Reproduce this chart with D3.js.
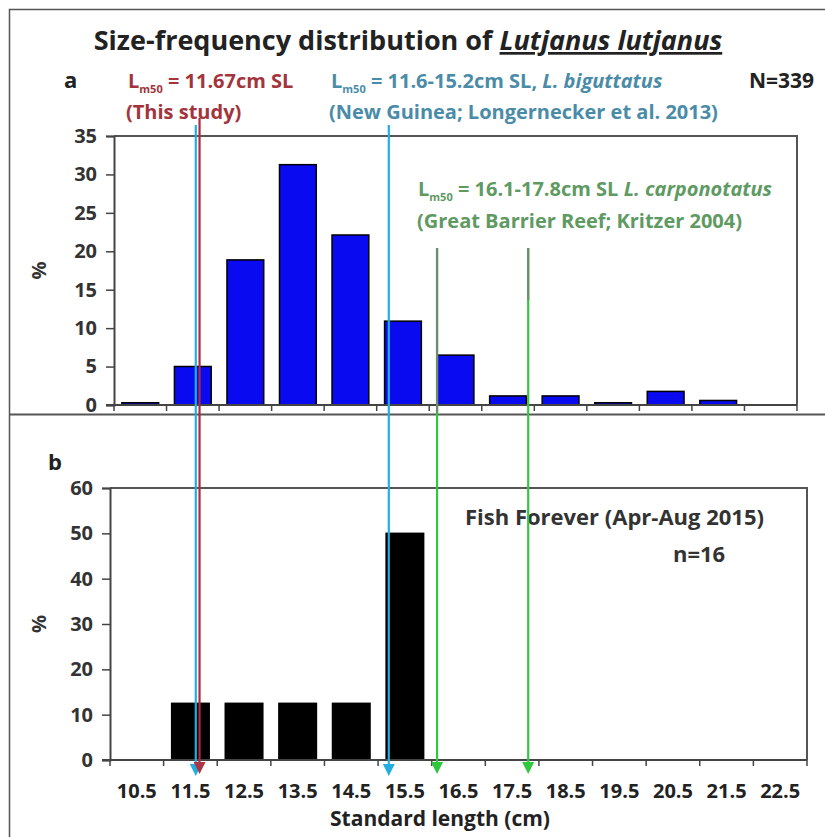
<!DOCTYPE html>
<html>
<head>
<meta charset="utf-8">
<script src="https://cdn.jsdelivr.net/npm/d3@7"></script>
<style>
  html, body { margin: 0; padding: 0; background: #fff; }
  svg { display: block; }
  text { font-family: "Open Sans", Lato, sans-serif; font-weight: bold; }
</style>
</head>
<body>
<svg id="chart" width="825" height="837"></svg>
<script>
// Size classes (cm SL, class mid-points)
const sizeClasses = ["10.5","11.5","12.5","13.5","14.5","15.5","16.5","17.5","18.5","19.5","20.5","21.5","22.5"];
// Panel a: this study, N = 339 (% of fish per class)
const pctThisStudy = [0.29, 5.01, 18.88, 31.27, 22.12, 10.91, 6.49, 1.18, 1.18, 0.29, 1.77, 0.59, 0];
// Panel b: Fish Forever, Apr-Aug 2015, n = 16
const pctFishForever = [0, 12.5, 12.5, 12.5, 12.5, 50, 0, 0, 0, 0, 0, 0, 0];
const yTicksA = [0, 5, 10, 15, 20, 25, 30, 35];
const yTicksB = [0, 10, 20, 30, 40, 50, 60];
// Published Lm50 estimates (cm SL)
const lm50ThisStudy = [11.67];
const lm50Biguttatus = [11.6, 15.2];
const lm50Carponotatus = [16.1, 17.8];

const svg = d3.select("#chart");

// outer frame and panel divider
svg.append("path").attr("d", "M9.5,837 V9.5 H825").attr("fill", "none").attr("stroke", "#555").attr("stroke-width", 1.5);
svg.append("line").attr("x1", 9).attr("x2", 825).attr("y1", 414.5).attr("y2", 414.5).attr("stroke", "#555").attr("stroke-width", 2);

// Title
const title = svg.append("text").attr("x", 408).attr("y", 50).attr("text-anchor", "middle")
  .attr("font-size", 27).attr("fill", "#222");
title.append("tspan").text("Size-frequency distribution of ");
title.append("tspan").attr("font-style", "italic").attr("text-decoration", "underline").text("Lutjanus lutjanus");

// ---------- panel geometry ----------
const A = { left: 114, right: 797, top: 136, bottom: 405, yMax: 35, ticks: yTicksA, data: pctThisStudy, fill: "#0a0af0" };
const B = { left: 110, right: 807, top: 488, bottom: 760, yMax: 60, ticks: yTicksB, data: pctFishForever, fill: "#000" };

function drawPanel(P) {
  const x = d3.scaleBand().domain(sizeClasses).range([P.left, P.right]).paddingInner(0.3).paddingOuter(0.15);
  const y = d3.scaleLinear().domain([0, P.yMax]).range([P.bottom, P.top]);
  const g = svg.append("g");

  // plot box (top and right edges)
  g.append("path").attr("d", `M${P.left},${P.top} H${P.right} V${P.bottom}`)
    .attr("fill", "none").attr("stroke", "#555").attr("stroke-width", 2);

  // bars
  g.selectAll("rect.bar").data(P.data.map((v, i) => ({ c: sizeClasses[i], v })).filter(d => d.v > 0))
    .join("rect").attr("class", "bar")
    .attr("x", d => x(d.c)).attr("width", x.bandwidth())
    .attr("y", d => y(d.v)).attr("height", d => y(0) - y(d.v))
    .attr("fill", P.fill).attr("stroke", "#000").attr("stroke-width", 1.5);

  // y axis
  const ya = g.append("g").attr("transform", `translate(${P.left},0)`)
    .call(d3.axisLeft(y).tickValues(P.ticks).tickSize(8).tickPadding(9).tickFormat(d3.format("d")));
  ya.select(".domain").attr("stroke", "#444").attr("stroke-width", 2);
  ya.selectAll(".tick line").attr("stroke", "#444").attr("stroke-width", 1.5);
  ya.selectAll("text").attr("font-size", 20).attr("fill", "#333")
    .attr("font-family", "'Open Sans', sans-serif").attr("font-weight", "bold");

  // x axis: tick marks at class boundaries
  const bounds = d3.range(sizeClasses.length + 1).map(i => P.left + i * x.step());
  g.append("line").attr("x1", P.left - 8).attr("x2", P.right).attr("y1", P.bottom).attr("y2", P.bottom)
    .attr("stroke", "#444").attr("stroke-width", 2);
  g.selectAll("line.xt").data(bounds).join("line").attr("class", "xt")
    .attr("x1", d => d).attr("x2", d => d).attr("y1", P.bottom).attr("y2", P.bottom + 6)
    .attr("stroke", "#444").attr("stroke-width", 1.5);

  // "%" axis title
  g.append("text").attr("transform", `translate(39,${(P.top + P.bottom) / 2}) rotate(-90)`)
    .attr("text-anchor", "middle").attr("dy", "0.35em").attr("font-size", 20).attr("fill", "#333").text("%");
  return x;
}

drawPanel(A);
const xb = drawPanel(B);

// x tick labels and axis title (shared, below panel b)
svg.append("g").selectAll("text").data(sizeClasses).join("text")
  .attr("x", d => xb(d) + xb.bandwidth() / 2).attr("y", 798).attr("text-anchor", "middle")
  .attr("font-size", 20).attr("fill", "#222").text(d => d);
svg.append("text").attr("x", 440).attr("y", 826).attr("text-anchor", "middle")
  .attr("font-size", 21).attr("fill", "#222").text("Standard length (cm)");

// panel letters and sample sizes
svg.append("text").attr("x", 64).attr("y", 88).attr("font-size", 22).attr("fill", "#222").text("a");
svg.append("text").attr("x", 814).attr("y", 88).attr("text-anchor", "end").attr("font-size", 21).attr("fill", "#222").text("N=339");
svg.append("text").attr("x", 48).attr("y", 470).attr("font-size", 22).attr("fill", "#222").text("b");
svg.append("text").attr("x", 465).attr("y", 525).attr("font-size", 22).attr("fill", "#333").text("Fish Forever (Apr-Aug 2015)");
svg.append("text").attr("x", 673).attr("y", 562).attr("font-size", 22).attr("fill", "#333").text("n=16");

// ---------- Lm50 reference lines ----------
const xv = d3.scaleLinear().domain([10.5, 22.5])
  .range([xb("10.5") + xb.bandwidth() / 2, xb("22.5") + xb.bandwidth() / 2]);

const refLines = [
  ...lm50Biguttatus.map(v => ({ v, top: 125, bottom: 776, color: "#1fb0dc", head: "#22aee0" })),
  ...lm50ThisStudy.map(v => ({ v, top: 118, bottom: 774, color: "#b02a40", head: "#a83848" })),
  ...lm50Carponotatus.map(v => ({ v, top: 248, bottom: 774, color: "#33c83c", head: "#2ec83c" }))
];
const rl = svg.append("g");
rl.selectAll("line").data(refLines).join("line")
  .attr("x1", d => xv(d.v)).attr("x2", d => xv(d.v))
  .attr("y1", d => d.top).attr("y2", d => d.bottom - 6)
  .attr("stroke", d => d.color).attr("stroke-width", 2.2);
// downward arrow heads
rl.selectAll("path").data(refLines).join("path")
  .attr("d", d => { const x = xv(d.v), b = d.bottom; return `M${x - 6},${b - 12} L${x + 6},${b - 12} L${x},${b} Z`; })
  .attr("fill", d => d.head);
// upper part of the carponotatus lines, drawn in the muted label colour
svg.append("g").selectAll("line").data(lm50Carponotatus).join("line")
  .attr("x1", d => xv(d)).attr("x2", d => xv(d)).attr("y1", 248).attr("y2", (d, i) => i === 0 ? 413 : 300)
  .attr("stroke", "#6f8c70").attr("stroke-width", 2.2);

// ---------- Lm50 labels ----------
function lmLabel(x, y, color, rest, italic) {
  const t = svg.append("text").attr("x", x).attr("y", y).attr("font-size", 20).attr("fill", color);
  t.append("tspan").text("L");
  t.append("tspan").attr("font-size", 11).attr("dy", 5).text("m50");
  t.append("tspan").attr("dy", -5).text(rest);
  if (italic) t.append("tspan").attr("font-style", "italic").text(italic);
  return t;
}
lmLabel(128, 88, "#a3343c", " = 11.67cm SL");
svg.append("text").attr("x", 126).attr("y", 119).attr("font-size", 20).attr("fill", "#a3343c").text("(This study)");

lmLabel(331, 88, "#4a8ca8", " = 11.6-15.2cm SL, ", "L. biguttatus");
svg.append("text").attr("x", 329).attr("y", 119).attr("font-size", 20).attr("fill", "#4a8ca8").text("(New Guinea; Longernecker et al. 2013)");

lmLabel(418, 196, "#5e9a62", " = 16.1-17.8cm SL ", "L. carponotatus");
svg.append("text").attr("x", 417).attr("y", 228).attr("font-size", 20).attr("fill", "#5e9a62").text("(Great Barrier Reef; Kritzer 2004)");
</script>
</body>
</html>
